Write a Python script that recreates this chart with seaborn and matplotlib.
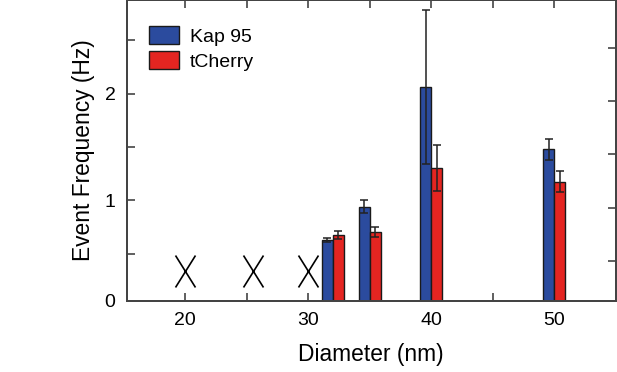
import numpy as np
import pandas as pd
import matplotlib
matplotlib.use("Agg")
import matplotlib.pyplot as plt
from matplotlib.path import Path
import seaborn as sns

# values
diameters = [32, 35, 40, 50]
kap95 = [0.63, 0.94, 2.06, 1.48]
kap95_err = [0.02, 0.06, 0.72, 0.10]
tcherry = [0.675, 0.705, 1.305, 1.175]
tcherry_err = [0.035, 0.045, 0.215, 0.10]

# diameters with no events (drawn as X)
none_diam = [20, 25.5, 30]
none_y = [0.343, 0.343, 0.343]

proteins = ["Kap 95", "tCherry"]
colors = ["#2b4b9e", "#e42521"]

df = pd.DataFrame({
    "diameter": diameters * 2,
    "freq": kap95 + tcherry,
    "protein": [proteins[0]] * len(diameters) + [proteins[1]] * len(diameters),
})
errs = [kap95_err, tcherry_err]

sns.set_style("ticks", {"text.color": "black", "xtick.color": "black",
                        "ytick.color": "black", "axes.labelcolor": "black"})
plt.rcParams["font.family"] = ["Liberation Sans", "DejaVu Sans"]

fig = plt.figure(figsize=(6.17, 3.72), dpi=100)
ax = fig.add_axes([0.2053, 0.1917, 0.7926, 0.807])

sns.barplot(data=df, x="diameter", y="freq", hue="protein", native_scale=True,
            width=0.587, palette=colors, saturation=1, edgecolor="#1a1a1a",
            linewidth=1.0, errorbar=None, ax=ax)

# error bars at the bar centres
for cont, err in zip(ax.containers, errs):
    xs = [p.get_x() + p.get_width() / 2 for p in cont.patches]
    hs = [p.get_height() for p in cont.patches]
    ax.errorbar(xs, hs, yerr=err, fmt="none", ecolor="#222222",
                elinewidth=1.1, capsize=3, capthick=1.1, zorder=5)

# X markers
xmark = Path([(-0.625, -1), (0.625, 1), (-0.625, 1), (0.625, -1)],
             [Path.MOVETO, Path.LINETO, Path.MOVETO, Path.LINETO])
ax.plot(none_diam, none_y, linestyle="none", marker=xmark, markersize=23,
        color="black", markeredgewidth=1.2)

ax.set_xlim(15.24, 55.0)
ax.set_ylim(0.062, 2.872)

ax.set_xticks([20, 25, 30, 35, 40, 45, 50])
ax.set_xticklabels(["20", "", "30", "", "40", "", "50"])
ax.set_yticks([0.062, 0.5, 1, 1.5, 2, 2.5])
ax.set_yticklabels(["0", "", "1", "", "2", ""])

ax.tick_params(axis="both", direction="in", length=6, width=1.2,
               color="#444444", labelcolor="black", labelsize=14, pad=8)
ax.tick_params(axis="x", top=True)
ax.tick_params(axis="y", right=False)

# right-hand ticks sit on their own positions
twin = ax.twinx()
twin.set_ylim(ax.get_ylim())
twin.set_yticks([0.43, 0.931, 1.433, 1.931, 2.43])
twin.set_yticklabels([])
twin.tick_params(axis="y", direction="in", length=6, width=1.2, color="#444444")

for a in (ax, twin):
    for s in a.spines.values():
        s.set_color("#444444")
        s.set_linewidth(1.4)

ax.set_xlabel("Diameter (nm)", fontsize=16.4, labelpad=10, color="black")
ax.set_ylabel("Event Frequency (Hz)", fontsize=16.4, labelpad=7, color="black")

handles, labels = ax.get_legend_handles_labels()
ax.legend(handles, labels, loc="upper left", bbox_to_anchor=(0.046, 0.915),
          frameon=False, fontsize=14, borderpad=0, borderaxespad=0,
          handlelength=1.53, handleheight=1.08, labelspacing=0.27,
          handletextpad=0.57)

fig.savefig("out.png", dpi=100)
